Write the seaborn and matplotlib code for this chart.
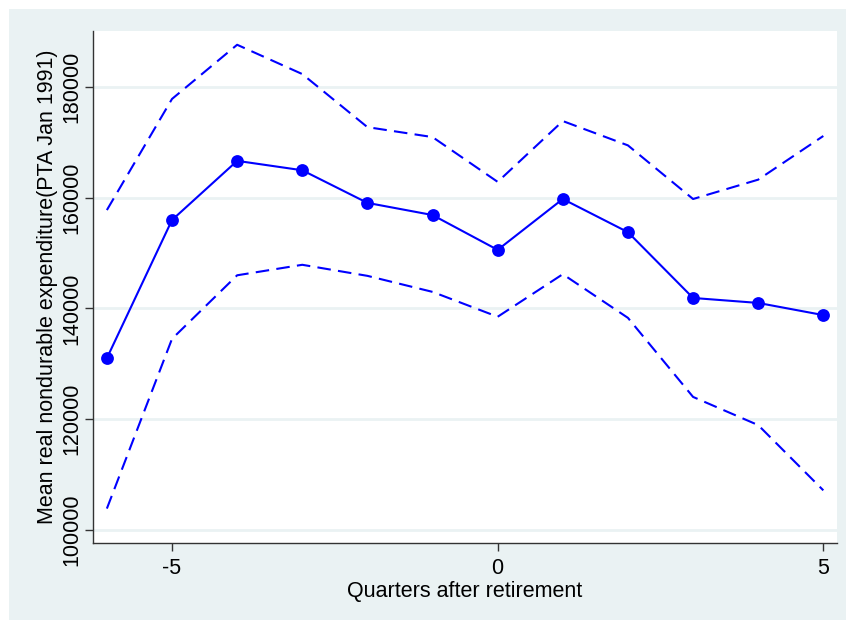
"""Mean real nondurable expenditure around retirement, with confidence bands."""

import matplotlib.pyplot as plt
import matplotlib.patches as mpatches
import pandas as pd
import seaborn as sns

quarters = [-6, -5, -4, -3, -2, -1, 0, 1, 2, 3, 4, 5]
mean_exp = [131000, 156000, 166700, 165000, 159100, 156900, 150600, 159800, 153800, 141900, 141000, 138800]
upper_ci = [157800, 177900, 187700, 182400, 172800, 171000, 162900, 173900, 169500, 159800, 163300, 171200]
lower_ci = [103800, 134500, 146000, 147900, 145900, 143000, 138500, 146200, 138300, 124000, 118900, 107100]

y_ticks = [100000, 120000, 140000, 160000, 180000]
x_ticks = [-5, 0, 5]

df = pd.DataFrame({"quarter": quarters, "mean": mean_exp, "upper": upper_ci, "lower": lower_ci})

sns.set_style("white")
plt.rcParams["font.family"] = ["Liberation Sans", "DejaVu Sans"]
plt.rcParams["axes.unicode_minus"] = False

BLUE = "#0000ff"
BG = "#eaf2f3"
FS = 15.5

fig = plt.figure(figsize=(8.46, 6.2), dpi=100)
# Stata-style light background panel
fig.patches.append(mpatches.Rectangle((9 / 846, 0), 1, 1 - 9 / 620, transform=fig.transFigure,
                                      facecolor=BG, edgecolor="none", zorder=-10))
ax = fig.add_axes([93 / 846, (620 - 543) / 620, (837 - 93) / 846, (543 - 31) / 620])
ax.set_zorder(1)
ax.set_facecolor("white")

for yt in y_ticks:
    ax.axhline(yt, color=BG, linewidth=2, zorder=0)

sns.lineplot(data=df, x="quarter", y="upper", ax=ax, color=BLUE, linewidth=1.5, dashes=False)
sns.lineplot(data=df, x="quarter", y="lower", ax=ax, color=BLUE, linewidth=1.5, dashes=False)
for ln in ax.lines[-2:]:
    ln.set_dashes((6.5, 3.5))
sns.lineplot(data=df, x="quarter", y="mean", ax=ax, color=BLUE, linewidth=1.5)
sns.scatterplot(data=df, x="quarter", y="mean", ax=ax, color=BLUE, s=85, edgecolor=BLUE, linewidth=0, zorder=5)

ax.set_xlim(-6.213, 5.21)
ax.set_ylim(97575, 190190)
ax.set_xticks(x_ticks)
ax.set_yticks(y_ticks)
ax.set_yticklabels([str(v) for v in y_ticks], rotation=90, va="center")
ax.tick_params(axis="both", which="both", length=6, width=1, color="#333333", labelsize=FS,
               labelcolor="black", left=True, bottom=True)
ax.tick_params(axis="x", pad=5)
ax.tick_params(axis="y", pad=2)

for side in ["top", "right"]:
    ax.spines[side].set_visible(False)
for side in ["left", "bottom"]:
    ax.spines[side].set_color("#333333")
    ax.spines[side].set_linewidth(1)

ax.set_xlabel("Quarters after retirement", fontsize=FS, color="black", labelpad=1)
ax.set_ylabel("Mean real nondurable expenditure(PTA Jan 1991)", fontsize=FS, color="black", labelpad=2)

fig.savefig("out.png", dpi=100, facecolor="white")
plt.close(fig)
